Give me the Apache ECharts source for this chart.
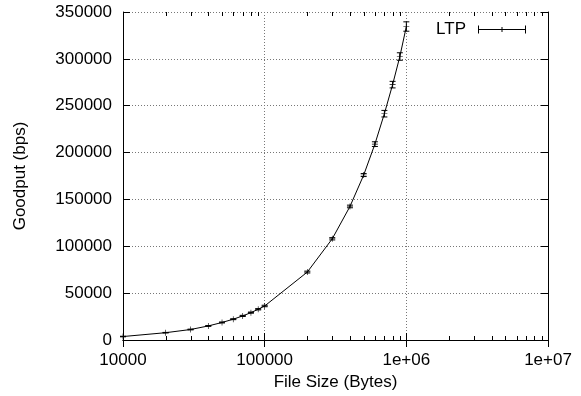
<!DOCTYPE html>
<html>
<head>
<meta charset="utf-8">
<script src="https://cdn.jsdelivr.net/npm/echarts@6/dist/echarts.min.js"></script>
<style>html,body{margin:0;padding:0;background:#fff}#c{width:581px;height:396px}</style>
</head>
<body>
<div id="c"></div>
<script>
// File sizes (bytes)
const fileSizes = [10000, 20000, 30000, 40000, 50000, 60000, 70000, 80000, 90000, 100000,
  200000, 300000, 400000, 500000, 600000, 700000, 800000, 900000, 1000000];
// Goodput (bps)
const goodput = [3700, 7800, 11200, 15000, 18700, 22200, 25700, 29200, 32800, 36300,
  72500, 108000, 142500, 176000, 209000, 241500, 272500, 302500, 334500];
// Error (+/- bps)
const goodputErr = [300, 300, 400, 400, 500, 500, 600, 600, 700, 800,
  1000, 1200, 1400, 1600, 2500, 3500, 3500, 4000, 5000];
// Axis ticks
const xTickLabels = ['10000', '100000', '1e+06', '1e+07'];
const xMinorTicks = [20000, 30000, 40000, 50000, 60000, 70000, 80000, 90000,
  200000, 300000, 400000, 500000, 600000, 700000, 800000, 900000,
  2000000, 3000000, 4000000, 5000000, 6000000, 7000000, 8000000, 9000000];
const yMin = 0, yMax = 350000, yStep = 50000;

const FONT = 'Liberation Sans';
const FS = 17;

const chart = echarts.init(document.getElementById('c'), null, {renderer: 'canvas'});

const lineData = fileSizes.map((x, i) => [x, goodput[i]]);
const errData = fileSizes.map((x, i) => [x, goodput[i], goodputErr[i]]);
const minorData = xMinorTicks.map(x => [x, 0]);

const plusPath = 'path://M0,4.5h10v1h-10z M4.5,0h1v10h-1z';
const legendIcon = 'path://M0,4.6h48v0.8h-48z M0,1h1v8h-1z M47,1h1v8h-1z M23.5,2.5h1v5h-1z';

chart.setOption({
  animation: false,
  backgroundColor: '#fff',
  textStyle: {fontFamily: FONT, color: '#000'},
  grid: {left: 123, right: 33, top: 12, bottom: 55, containLabel: false},
  legend: {
    data: ['LTP'],
    right: 50, top: 16,
    align: 'right',
    icon: legendIcon,
    itemWidth: 48, itemHeight: 10,
    itemStyle: {color: '#000', borderWidth: 0},
    textStyle: {fontFamily: FONT, fontSize: FS, color: '#000', padding: [0, 7, 0, 0]}
  },
  xAxis: [{
    type: 'log', logBase: 10, min: 10000, max: 10000000,
    position: 'bottom',
    name: 'File Size (Bytes)', nameLocation: 'middle', nameGap: 34,
    nameTextStyle: {fontFamily: FONT, fontSize: FS, color: '#000'},
    axisLine: {show: true, lineStyle: {color: '#000', width: 1}},
    axisTick: {show: true, inside: true, length: 7, lineStyle: {color: '#000'}},
    axisLabel: {
      fontFamily: FONT, fontSize: FS, color: '#000', margin: 12,
      formatter: v => xTickLabels[Math.round(Math.log10(v)) - 4]
    },
    splitLine: {show: true, lineStyle: {color: '#777', type: [1, 2], width: 1}},
    minorTick: {show: false}
  }, {
    type: 'log', logBase: 10, min: 10000, max: 10000000,
    position: 'top',
    axisLine: {show: true, lineStyle: {color: '#000', width: 1}},
    axisTick: {show: true, inside: true, length: 7, lineStyle: {color: '#000'}},
    axisLabel: {show: false},
    splitLine: {show: false}
  }],
  yAxis: [{
    type: 'value', min: yMin, max: yMax, interval: yStep,
    position: 'left',
    name: 'Goodput (bps)', nameLocation: 'middle', nameGap: 94,
    nameTextStyle: {fontFamily: FONT, fontSize: FS, color: '#000'},
    axisLine: {show: true, lineStyle: {color: '#000', width: 1}},
    axisTick: {show: true, inside: true, length: 7, lineStyle: {color: '#000'}},
    axisLabel: {fontFamily: FONT, fontSize: FS, color: '#000', margin: 11, formatter: v => String(v)},
    splitLine: {show: true, lineStyle: {color: '#777', type: [1, 2], width: 1}}
  }, {
    type: 'value', min: yMin, max: yMax, interval: yStep,
    position: 'right',
    axisLine: {show: true, lineStyle: {color: '#000', width: 1}},
    axisTick: {show: true, inside: true, length: 7, lineStyle: {color: '#000'}},
    axisLabel: {show: false},
    splitLine: {show: false}
  }],
  series: [{
    name: 'LTP',
    type: 'line',
    xAxisIndex: 0, yAxisIndex: 0,
    data: lineData,
    symbol: plusPath,
    symbolSize: 6,
    showAllSymbol: true,
    lineStyle: {color: '#000', width: 1},
    itemStyle: {color: '#000'},
    z: 5
  }, {
    name: 'LTP_err',
    type: 'custom',
    xAxisIndex: 0, yAxisIndex: 0,
    data: errData,
    encode: {x: 0, y: 1},
    renderItem: function (params, api) {
      const x = api.value(0), y = api.value(1), e = api.value(2);
      const hi = api.coord([x, y + e]);
      const lo = api.coord([x, y - e]);
      const w = 3;
      const st = {stroke: '#000', lineWidth: 1};
      return {type: 'group', children: [
        {type: 'line', shape: {x1: hi[0], y1: hi[1], x2: lo[0], y2: lo[1]}, style: st},
        {type: 'line', shape: {x1: hi[0] - w, y1: hi[1], x2: hi[0] + w, y2: hi[1]}, style: st},
        {type: 'line', shape: {x1: lo[0] - w, y1: lo[1], x2: lo[0] + w, y2: lo[1]}, style: st}
      ]};
    },
    z: 6
  }, {
    name: 'minorTicks',
    type: 'custom',
    xAxisIndex: 0, yAxisIndex: 0,
    data: minorData,
    encode: {x: 0, y: 1},
    silent: true,
    clip: false,
    renderItem: function (params, api) {
      const cs = params.coordSys;
      const p = api.coord([api.value(0), 0]);
      const xx = Math.round(p[0]) + 0.5;
      const top = cs.y, bot = cs.y + cs.height;
      const st = {stroke: '#000', lineWidth: 1};
      return {type: 'group', children: [
        {type: 'line', shape: {x1: xx, y1: bot, x2: xx, y2: bot - 4}, style: st},
        {type: 'line', shape: {x1: xx, y1: top, x2: xx, y2: top + 4}, style: st}
      ]};
    },
    z: 4
  }]
});
</script>
</body>
</html>
